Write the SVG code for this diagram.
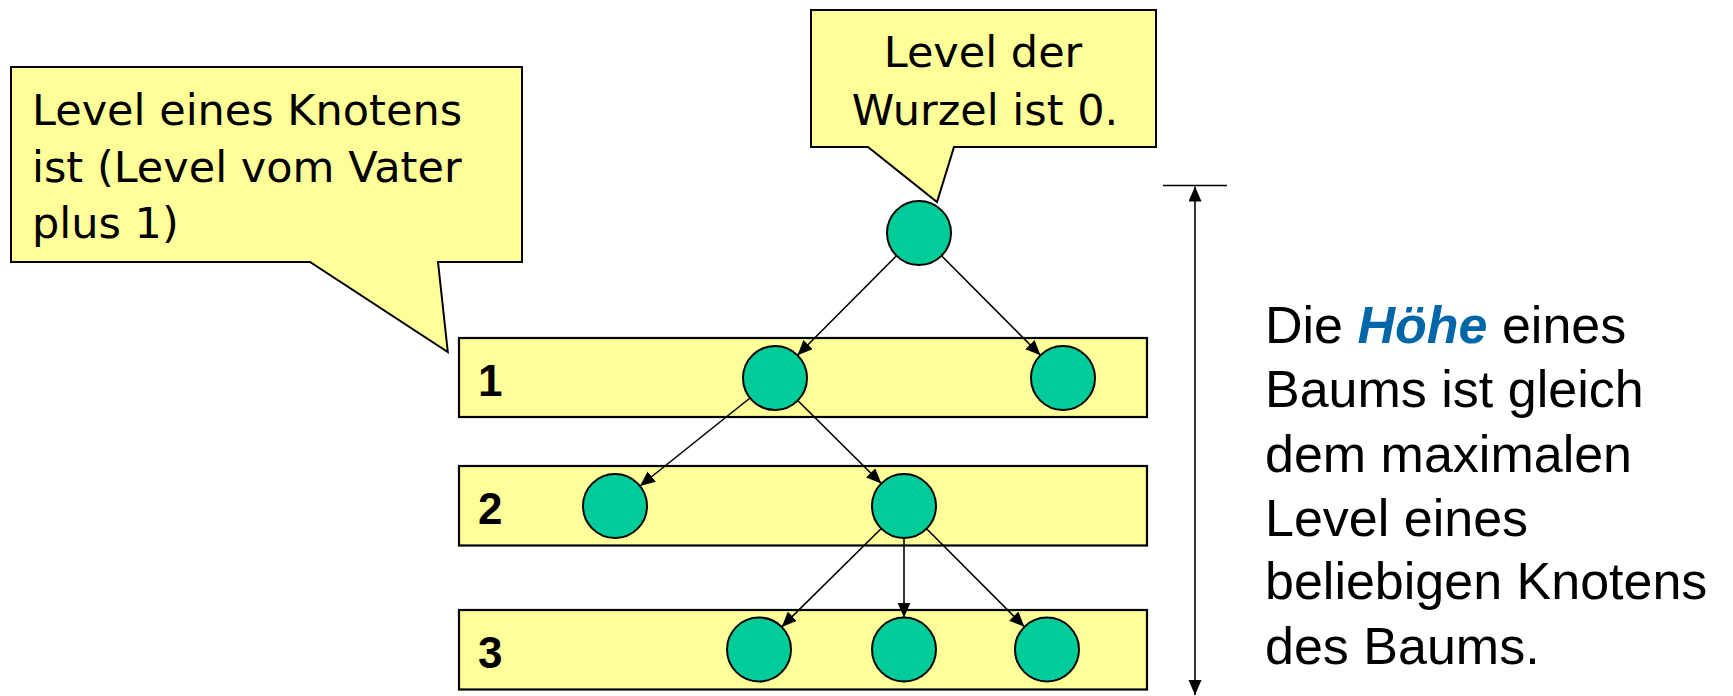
<svg xmlns="http://www.w3.org/2000/svg" width="1733" height="696" viewBox="0 0 1733 696">
<style>
.callout{fill:#FFFF99;stroke:#000;stroke-width:2}
.level{fill:#FFFF99;stroke:#000;stroke-width:2.2}
.node{fill:#00CC99;stroke:#000;stroke-width:2}
.ctext{font-family:"DejaVu Sans",sans-serif;font-size:43px;fill:#000}
.ltext{font-family:"Liberation Sans",Arial,sans-serif;font-weight:bold;font-size:44px;fill:#000}
.rtext{font-family:"Liberation Sans",Arial,sans-serif;font-size:52px;fill:#000}
.edge{stroke:#000;stroke-width:1.6;fill:none}
</style>
<defs>
<marker id="arr" markerUnits="userSpaceOnUse" markerWidth="16" markerHeight="14" refX="15" refY="6.5" orient="auto">
<path d="M0,0 L15,6.5 L0,13 z" fill="#000"/>
</marker>
<marker id="arrS" markerUnits="userSpaceOnUse" markerWidth="16" markerHeight="14" refX="15" refY="6.5" orient="auto-start-reverse">
<path d="M0,0 L15,6.5 L0,13 z" fill="#000"/>
</marker>
</defs>
<rect width="1733" height="696" fill="#fff"/>

<g id="callout-left">
<path class="callout" d="M11,67 L522,67 L522,262 L438,262 L447.8,352 L310,262 L11,262 Z"/>
<text class="ctext" x="32" y="125">Level eines Knotens</text>
<text class="ctext" x="32" y="182">ist (Level vom Vater</text>
<text class="ctext" x="32" y="238">plus 1)</text>
</g>

<g id="callout-top">
<path class="callout" d="M811,10 L1156,10 L1156,147 L954,147 L937,202 L868,147 L811,147 Z"/>
<text class="ctext" x="983" y="67" text-anchor="middle">Level der</text>
<text class="ctext" x="985" y="125" text-anchor="middle">Wurzel ist 0.</text>
</g>

<g id="level1">
<rect class="level" x="459" y="338" width="688" height="79"/>
<text class="ltext" x="478" y="396">1</text>
</g>
<g id="level2">
<rect class="level" x="459" y="466" width="688" height="79.5"/>
<text class="ltext" x="478" y="524">2</text>
</g>
<g id="level3">
<rect class="level" x="459" y="610" width="688" height="79.5"/>
<text class="ltext" x="478" y="668">3</text>
</g>

<g id="connectors">
<line class="edge" x1="896.5" y1="255.7" x2="797.5" y2="355.3" marker-end="url(#arr)"/>
<line class="edge" x1="941.5" y1="255.7" x2="1040.5" y2="355.3" marker-end="url(#arr)"/>
<line class="edge" x1="750" y1="398" x2="640" y2="486" marker-end="url(#arr)"/>
<line class="edge" x1="797.7" y1="400.5" x2="881.3" y2="483.5" marker-end="url(#arr)"/>
<line class="edge" x1="881.3" y1="528.5" x2="781.7" y2="626.9" marker-end="url(#arr)"/>
<line class="edge" x1="904" y1="538" x2="904" y2="617.5" marker-end="url(#arr)"/>
<line class="edge" x1="926.6" y1="528.7" x2="1024.4" y2="626.8" marker-end="url(#arr)"/>
<line class="edge" x1="1195" y1="186.5" x2="1195" y2="695" marker-start="url(#arrS)" marker-end="url(#arr)"/>
<line class="edge" x1="1163" y1="185.5" x2="1227" y2="185.5"/>
</g>

<g id="root"><circle class="node" cx="919" cy="233" r="32"/></g>
<g id="n1a"><circle class="node" cx="775" cy="378" r="32"/></g>
<g id="n1b"><circle class="node" cx="1063" cy="378" r="32"/></g>
<g id="n2a"><circle class="node" cx="615" cy="506" r="32"/></g>
<g id="n2b"><circle class="node" cx="904" cy="506" r="32"/></g>
<g id="n3a"><circle class="node" cx="759" cy="649.5" r="32"/></g>
<g id="n3b"><circle class="node" cx="904" cy="649.5" r="32"/></g>
<g id="n3c"><circle class="node" cx="1047" cy="649.5" r="32"/></g>

<g id="height-text">
<text class="rtext" x="1265" y="343">Die <tspan font-weight="bold" font-style="italic" fill="#0066A8">Höhe</tspan> eines</text>
<text class="rtext" x="1265" y="407">Baums ist gleich</text>
<text class="rtext" x="1265" y="472">dem maximalen</text>
<text class="rtext" x="1265" y="536">Level eines</text>
<text class="rtext" x="1265" y="599">beliebigen Knotens</text>
<text class="rtext" x="1265" y="664">des Baums.</text>
</g>
</svg>
